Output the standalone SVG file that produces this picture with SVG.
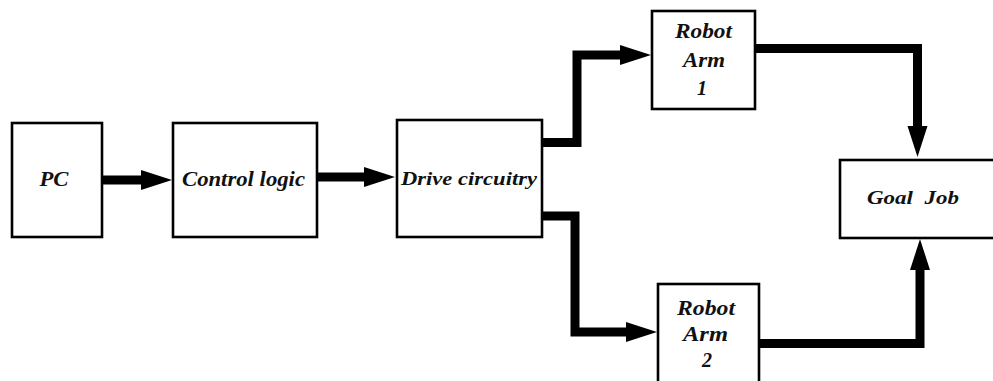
<svg xmlns="http://www.w3.org/2000/svg" width="993" height="381" viewBox="0 0 993 381">
<style>
.box{fill:#fff;stroke:#000;stroke-width:2.6}
.lbl{font-family:"Liberation Serif","Times New Roman",serif;font-weight:bold;font-style:italic;fill:#111;text-anchor:middle}
.wire{fill:none;stroke:#000;stroke-width:9;stroke-linejoin:miter;stroke-linecap:butt}
</style>
<defs>
<marker id="ah" markerUnits="userSpaceOnUse" markerWidth="32" markerHeight="20" refX="0" refY="10" orient="auto" overflow="visible">
<path d="M0,0 L31,10 L0,20 Z" fill="#000"/>
</marker>
</defs>
<rect width="993" height="381" fill="#fff"/>
<g id="connectors">
<polyline class="wire" points="102,180 141,180" marker-end="url(#ah)"/>
<polyline class="wire" points="317,177 364,177" marker-end="url(#ah)"/>
<polyline class="wire" points="542,142.5 577,142.5 577,55 620,55" marker-end="url(#ah)"/>
<polyline class="wire" points="542,216 575,216 575,332 626,332" marker-end="url(#ah)"/>
<polyline class="wire" points="755,48.5 917.5,48.5 917.5,126" marker-end="url(#ah)"/>
<polyline class="wire" points="759,343.5 920,343.5 920,270" marker-end="url(#ah)"/>
</g>
<g id="pc">
<rect class="box" x="12" y="123" width="90" height="114"/>
<text class="lbl" x="54" y="186" font-size="21" textLength="29" lengthAdjust="spacingAndGlyphs">PC</text>
</g>
<g id="control-logic">
<rect class="box" x="173" y="123" width="144" height="114"/>
<text class="lbl" x="243.5" y="186" font-size="21" textLength="123" lengthAdjust="spacingAndGlyphs">Control logic</text>
</g>
<g id="drive-circuitry">
<rect class="box" x="397" y="120" width="145" height="117"/>
<text class="lbl" x="469" y="185" font-size="19" textLength="136" lengthAdjust="spacingAndGlyphs">Drive circuitry</text>
</g>
<g id="robot-arm-1">
<rect class="box" x="652" y="11" width="103" height="98"/>
<text class="lbl" x="703.5" y="38" font-size="20" textLength="57" lengthAdjust="spacingAndGlyphs">Robot</text>
<text class="lbl" x="704" y="67" font-size="20" textLength="42" lengthAdjust="spacingAndGlyphs">Arm</text>
<text class="lbl" x="702" y="95" font-size="20">1</text>
</g>
<g id="robot-arm-2">
<rect class="box" x="658" y="284" width="101" height="102"/>
<text class="lbl" x="706" y="315" font-size="20" textLength="58" lengthAdjust="spacingAndGlyphs">Robot</text>
<text class="lbl" x="705.5" y="341" font-size="20" textLength="45" lengthAdjust="spacingAndGlyphs">Arm</text>
<text class="lbl" x="707" y="367" font-size="20">2</text>
</g>
<g id="goal-job">
<rect class="box" x="840" y="160" width="160" height="78"/>
<text class="lbl" x="913" y="204" font-size="18" textLength="92" lengthAdjust="spacingAndGlyphs" xml:space="preserve">Goal  Job</text>
</g>
</svg>
